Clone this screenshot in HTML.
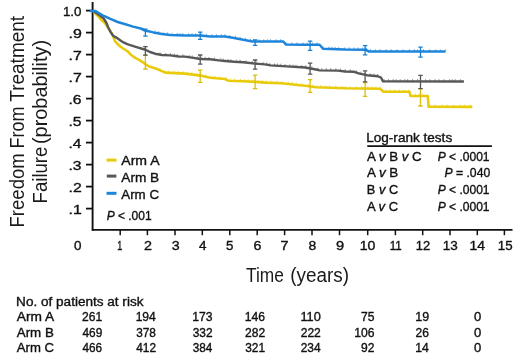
<!DOCTYPE html>
<html><head><meta charset="utf-8"><style>
html,body{margin:0;padding:0;background:#fff;}
svg{display:block;will-change:transform;}
text{font-family:"Liberation Sans", sans-serif;fill:#111;stroke:#111;stroke-width:0.35px;}
text.big{stroke:none;fill:#1a1a1a;}
</style></head><body>
<svg width="520" height="356" viewBox="0 0 520 356">
<rect width="520" height="356" fill="#fff"/>
<path d="M92.6 2V230.6" stroke="#111" stroke-width="1.9" fill="none"/>
<path d="M91.8 229.8H512.5" stroke="#111" stroke-width="1.8" fill="none"/>
<path d="M86 10.6H92" stroke="#111" stroke-width="1.8"/>
<path d="M86 32.6H92" stroke="#111" stroke-width="1.8"/>
<path d="M86 54.6H92" stroke="#111" stroke-width="1.8"/>
<path d="M86 76.6H92" stroke="#111" stroke-width="1.8"/>
<path d="M86 98.6H92" stroke="#111" stroke-width="1.8"/>
<path d="M86 120.6H92" stroke="#111" stroke-width="1.8"/>
<path d="M86 142.6H92" stroke="#111" stroke-width="1.8"/>
<path d="M86 164.6H92" stroke="#111" stroke-width="1.8"/>
<path d="M86 186.6H92" stroke="#111" stroke-width="1.8"/>
<path d="M86 208.6H92" stroke="#111" stroke-width="1.8"/>
<path d="M120.2 230V235.2" stroke="#111" stroke-width="1.5"/>
<path d="M147.4 230V235.2" stroke="#111" stroke-width="1.5"/>
<path d="M175 230V235.2" stroke="#111" stroke-width="1.5"/>
<path d="M202.3 230V235.2" stroke="#111" stroke-width="1.5"/>
<path d="M229.8 230V235.2" stroke="#111" stroke-width="1.5"/>
<path d="M257.2 230V235.2" stroke="#111" stroke-width="1.5"/>
<path d="M284.6 230V235.2" stroke="#111" stroke-width="1.5"/>
<path d="M312 230V235.2" stroke="#111" stroke-width="1.5"/>
<path d="M339.5 230V235.2" stroke="#111" stroke-width="1.5"/>
<path d="M367.7 230V235.2" stroke="#111" stroke-width="1.5"/>
<path d="M395.4 230V235.2" stroke="#111" stroke-width="1.5"/>
<path d="M422.7 230V235.2" stroke="#111" stroke-width="1.5"/>
<path d="M450 230V235.2" stroke="#111" stroke-width="1.5"/>
<path d="M477.3 230V235.2" stroke="#111" stroke-width="1.5"/>
<path d="M504.4 230V235.2" stroke="#111" stroke-width="1.5"/>
<polyline points="93.5,11.7 97.0,15.1 99.2,17.4 101.5,20.2 104.9,23.0 108.5,28.2 111.6,33.1 113.5,37.3 115.1,41.4 117.6,44.0 120.2,46.5 124.0,49.0 127.8,51.5 131.5,55.3 135.3,57.9 139.1,59.8 142.9,62.3 146.0,64.6 150.0,66.8 155.0,68.2 161.9,71.1 165.2,72.6 185.0,73.6 193.4,74.6 200.2,75.6 210.3,77.8 225.0,79.0 228.6,80.8 243.3,81.3 255.1,81.9 265.0,82.6 281.4,83.2 297.5,85.0 305.0,85.8 316.0,87.2 345.0,88.3 380.0,88.8 383.5,91.8 409.5,91.8 410.5,95.9 427.8,96.0 428.6,106.8 472.3,106.9" stroke="#e9cb0c" stroke-width="2.6" fill="none" stroke-linejoin="round"/>
<polyline points="93.5,11.2 99.2,15.1 103.7,18.5 106.5,23.0 108.2,27.5 110.4,31.6 113.0,35.7 116.4,37.6 121.2,41.0 124.0,42.7 127.3,44.2 130.3,45.2 136.6,47.1 142.9,49.0 145.0,49.5 150.0,52.0 155.0,53.7 161.9,55.0 170.3,55.4 178.7,56.5 185.0,56.6 193.4,57.9 200.2,59.0 210.3,59.3 218.7,60.4 225.0,61.0 234.1,61.8 243.3,62.3 255.1,63.6 265.0,64.4 270.5,65.4 286.9,66.4 305.0,67.5 316.0,69.5 319.6,70.4 337.9,70.6 345.0,71.5 354.1,71.8 359.6,73.6 366.9,75.2 377.9,76.3 381.0,77.5 383.0,81.4 463.9,81.5" stroke="#585858" stroke-width="2.4" fill="none" stroke-linejoin="round"/>
<polyline points="89.8,10.9 95.5,11.1 97.5,12.2 102.7,15.4 110.4,18.9 117.7,22.0 125.4,24.3 133.1,26.6 140.8,28.5 145.0,30.5 153.4,32.4 161.9,34.0 170.3,34.9 185.0,35.5 200.2,35.6 210.3,36.4 225.0,36.6 234.1,38.0 243.3,39.8 252.4,41.4 265.0,41.5 283.3,41.5 286.0,44.6 305.0,44.8 319.6,44.8 323.0,48.7 345.0,49.6 366.0,49.8 368.7,51.4 445.5,51.6" stroke="#1e86da" stroke-width="2.5" fill="none" stroke-linejoin="round"/>
<path d="M145.4 55.2V69.0M143.2 55.2H147.6M143.2 69.0H147.6" stroke="#d8bd14" stroke-width="1.3" fill="none"/><path d="M200.2 70.2V82.3M198.0 70.2H202.4M198.0 82.3H202.4" stroke="#d8bd14" stroke-width="1.3" fill="none"/><path d="M255.1 75.1V88.6M252.9 75.1H257.3M252.9 88.6H257.3" stroke="#d8bd14" stroke-width="1.3" fill="none"/><path d="M310.1 79.6V92.3M307.9 79.6H312.3M307.9 92.3H312.3" stroke="#d8bd14" stroke-width="1.3" fill="none"/><path d="M365.1 82.7V96.4M362.9 82.7H367.3M362.9 96.4H367.3" stroke="#d8bd14" stroke-width="1.3" fill="none"/><path d="M420.5 88.6V106.0M418.3 88.6H422.7M418.3 106.0H422.7" stroke="#d8bd14" stroke-width="1.3" fill="none"/>
<path d="M155.0 30.4V32.7M158.6 31.1V33.4M163.2 31.8V34.1M167.2 32.3V34.6M172.1 32.7V35.0M177.1 32.9V35.2M180.0 33.0V35.3M182.8 33.1V35.4M188.5 33.2V35.5M192.1 33.2V35.5M195.6 33.3V35.6M201.9 33.4V35.7M206.3 33.8V36.1M212.0 34.1V36.4M216.5 34.2V36.5M221.5 34.3V36.6M224.7 34.3V36.6M229.7 35.0V37.3M235.5 36.0V38.3M240.1 36.9V39.2M245.5 37.9V40.2M250.6 38.8V41.1M253.5 39.1V41.4M258.9 39.2V41.5M263.8 39.2V41.5M267.5 39.2V41.5M270.4 39.2V41.5M276.2 39.2V41.5M280.6 39.2V41.5M285.9 42.1V44.4M291.7 42.4V44.7M297.0 42.4V44.7M303.0 42.5V44.8M307.1 42.5V44.8M312.7 42.5V44.8M317.0 42.5V44.8M323.1 46.4V48.7M329.0 46.6V48.9M332.0 46.8V49.1M335.2 46.9V49.2M338.7 47.0V49.3M344.9 47.3V49.6M349.1 47.3V49.6M354.1 47.4V49.7M357.9 47.4V49.7M362.4 47.5V49.8M366.5 47.8V50.1M370.4 49.1V51.4M375.2 49.1V51.4M380.0 49.1V51.4M386.0 49.1V51.4M391.2 49.2V51.5M397.2 49.2V51.5M403.0 49.2V51.5M409.3 49.2V51.5M414.4 49.2V51.5M417.7 49.2V51.5M423.5 49.2V51.5M429.6 49.3V51.6M435.6 49.3V51.6M440.3 49.3V51.6M445.6 49.3V51.6" stroke="#1e86da" stroke-width="0.8" fill="none" opacity="0.8"/>
<path d="M160.0 52.3V54.6M165.7 52.9V55.2M170.5 53.1V55.4M174.2 53.6V55.9M177.1 54.0V56.3M182.9 54.3V56.6M189.2 54.9V57.2M192.2 55.4V57.7M197.8 56.3V58.6M201.9 56.8V59.1M205.2 56.8V59.1M208.9 57.0V59.3M214.4 57.5V59.8M220.2 58.2V60.5M223.1 58.5V60.8M228.0 59.0V61.3M230.9 59.2V61.5M236.2 59.6V61.9M240.1 59.8V62.1M245.9 60.3V62.6M252.2 61.0V63.3M256.7 61.4V63.7M263.0 61.9V64.2M266.8 62.4V64.7M269.8 63.0V65.3M274.6 63.4V65.7M277.4 63.5V65.8M280.8 63.7V66.0M285.0 64.0V66.3M289.9 64.3V66.6M293.2 64.5V66.8M296.0 64.7V67.0M301.8 65.0V67.3M305.7 65.3V67.6M311.8 66.4V68.7M317.8 67.6V69.9M321.8 68.1V70.4M326.2 68.2V70.5M330.7 68.2V70.5M335.8 68.3V70.6M340.6 68.6V70.9M345.3 69.2V71.5M350.3 69.4V71.7M356.3 70.2V72.5M360.9 71.6V73.9M365.1 72.5V74.8M370.4 73.3V75.6M374.0 73.6V75.9M377.7 74.0V76.3M384.0 79.1V81.4M388.5 79.1V81.4M393.2 79.1V81.4M396.0 79.1V81.4M400.2 79.1V81.4M404.9 79.1V81.4M407.7 79.1V81.4M412.6 79.1V81.4M417.6 79.1V81.4M420.5 79.1V81.4M425.5 79.2V81.5M429.9 79.2V81.5M435.0 79.2V81.5M439.0 79.2V81.5M444.2 79.2V81.5M449.6 79.2V81.5M452.4 79.2V81.5M455.3 79.2V81.5M460.4 79.2V81.5" stroke="#585858" stroke-width="0.8" fill="none" opacity="0.8"/>
<path d="M160.0 68.0V70.3M164.0 69.8V72.1M168.8 70.5V72.8M174.2 70.8V73.1M178.5 71.0V73.3M182.9 71.2V73.5M187.2 71.6V73.9M191.7 72.1V74.4M197.0 72.8V75.1M201.2 73.5V75.8M205.8 74.5V76.8M211.8 75.6V77.9M215.0 75.9V78.2M220.2 76.3V78.6M226.2 77.3V79.6M230.4 78.6V80.9M234.3 78.7V81.0M240.5 78.9V81.2M244.5 79.1V81.4M248.2 79.3V81.6M253.0 79.5V81.8M258.8 79.9V82.2M262.2 80.1V82.4M266.4 80.4V82.7M270.8 80.5V82.8M277.1 80.7V83.0M281.9 81.0V83.3M288.3 81.7V84.0M292.0 82.1V84.4M296.3 82.6V84.9M301.9 83.2V85.5M308.5 83.9V86.2M313.3 84.6V86.9M317.2 84.9V87.2M320.6 85.1V87.4M325.8 85.3V87.6M329.5 85.4V87.7M335.8 85.6V87.9M342.1 85.9V88.2M345.8 86.0V88.3M350.0 86.1V88.4M356.2 86.2V88.5M361.8 86.2V88.5M368.0 86.3V88.6M372.4 86.4V88.7M375.9 86.4V88.7M380.0 86.5V88.8M386.2 89.5V91.8M390.3 89.5V91.8M394.7 89.5V91.8M399.4 89.5V91.8M404.0 89.5V91.8M408.7 89.5V91.8M415.4 93.6V95.9M419.0 93.6V95.9M422.0 93.7V96.0M428.8 104.5V106.8M435.3 104.5V106.8M442.2 104.5V106.8M447.0 104.5V106.8M453.8 104.6V106.9M460.5 104.6V106.9M464.4 104.6V106.9M470.4 104.6V106.9" stroke="#e9cb0c" stroke-width="0.8" fill="none" opacity="0.8"/>
<path d="M145.4 46.6V55.2M143.2 46.6H147.6M143.2 55.2H147.6" stroke="#555" stroke-width="1.3" fill="none"/><path d="M200.2 55.0V64.1M198.0 55.0H202.4M198.0 64.1H202.4" stroke="#555" stroke-width="1.3" fill="none"/><path d="M255.1 60.0V69.1M252.9 60.0H257.3M252.9 69.1H257.3" stroke="#555" stroke-width="1.3" fill="none"/><path d="M310.1 63.1V74.1M307.9 63.1H312.3M307.9 74.1H312.3" stroke="#555" stroke-width="1.3" fill="none"/><path d="M365.1 70.9V81.8M362.9 70.9H367.3M362.9 81.8H367.3" stroke="#555" stroke-width="1.3" fill="none"/><path d="M420.5 75.4V88.6M418.3 75.4H422.7M418.3 88.6H422.7" stroke="#555" stroke-width="1.3" fill="none"/>
<path d="M145.4 29.2V36.2M143.2 29.2H147.6M143.2 36.2H147.6" stroke="#1a7fd0" stroke-width="1.3" fill="none"/><path d="M200.2 32.1V39.3M198.0 32.1H202.4M198.0 39.3H202.4" stroke="#1a7fd0" stroke-width="1.3" fill="none"/><path d="M255.1 39.9V45.3M252.9 39.9H257.3M252.9 45.3H257.3" stroke="#1a7fd0" stroke-width="1.3" fill="none"/><path d="M310.1 41.2V50.3M307.9 41.2H312.3M307.9 50.3H312.3" stroke="#1a7fd0" stroke-width="1.3" fill="none"/><path d="M365.1 45.7V54.8M362.9 45.7H367.3M362.9 54.8H367.3" stroke="#1a7fd0" stroke-width="1.3" fill="none"/><path d="M420.5 47.1V57.2M418.3 47.1H422.7M418.3 57.2H422.7" stroke="#1a7fd0" stroke-width="1.3" fill="none"/>
<rect x="106.5" y="158.6" width="10" height="3" fill="#e9cb0c"/>
<rect x="106.8" y="174.6" width="9.6" height="3" fill="#585858"/>
<rect x="106.5" y="191.8" width="10" height="3" fill="#1e86da"/>
<path d="M367.3 146.1H491.9" stroke="#111" stroke-width="1.8"/>
<text x="62.97" y="15.50" font-size="12.9" textLength="18.51" lengthAdjust="spacingAndGlyphs">1.0</text>
<text x="68.47" y="37.50" font-size="12.9" textLength="13.27" lengthAdjust="spacingAndGlyphs">.9</text>
<text x="68.47" y="59.50" font-size="12.9" textLength="13.27" lengthAdjust="spacingAndGlyphs">.7</text>
<text x="68.47" y="81.50" font-size="12.9" textLength="13.27" lengthAdjust="spacingAndGlyphs">.7</text>
<text x="68.49" y="103.50" font-size="12.9" textLength="13.08" lengthAdjust="spacingAndGlyphs">.6</text>
<text x="68.49" y="125.50" font-size="12.9" textLength="13.08" lengthAdjust="spacingAndGlyphs">.5</text>
<text x="68.51" y="147.50" font-size="12.9" textLength="12.90" lengthAdjust="spacingAndGlyphs">.4</text>
<text x="68.49" y="169.50" font-size="12.9" textLength="13.08" lengthAdjust="spacingAndGlyphs">.3</text>
<text x="68.47" y="191.50" font-size="12.9" textLength="13.27" lengthAdjust="spacingAndGlyphs">.2</text>
<text x="68.47" y="213.50" font-size="12.9" textLength="13.27" lengthAdjust="spacingAndGlyphs">.1</text>
<text x="117.16" y="249.60" font-size="12.4" textLength="5.06" lengthAdjust="spacingAndGlyphs">1</text>
<text x="144.08" y="249.60" font-size="12.4" textLength="7.98" lengthAdjust="spacingAndGlyphs">2</text>
<text x="171.77" y="249.60" font-size="12.4" textLength="7.95" lengthAdjust="spacingAndGlyphs">3</text>
<text x="198.93" y="249.60" font-size="12.4" textLength="7.52" lengthAdjust="spacingAndGlyphs">4</text>
<text x="226.07" y="249.60" font-size="12.4" textLength="7.42" lengthAdjust="spacingAndGlyphs">5</text>
<text x="253.59" y="249.60" font-size="12.4" textLength="7.93" lengthAdjust="spacingAndGlyphs">6</text>
<text x="280.58" y="249.60" font-size="12.4" textLength="7.98" lengthAdjust="spacingAndGlyphs">7</text>
<text x="308.44" y="249.60" font-size="12.4" textLength="7.76" lengthAdjust="spacingAndGlyphs">8</text>
<text x="335.91" y="249.60" font-size="12.4" textLength="8.16" lengthAdjust="spacingAndGlyphs">9</text>
<text x="359.71" y="249.60" font-size="12.4" textLength="15.70" lengthAdjust="spacingAndGlyphs">10</text>
<text x="389.69" y="249.60" font-size="12.4" textLength="12.05" lengthAdjust="spacingAndGlyphs">11</text>
<text x="415.69" y="249.60" font-size="12.4" textLength="14.40" lengthAdjust="spacingAndGlyphs">12</text>
<text x="442.65" y="249.60" font-size="12.4" textLength="15.03" lengthAdjust="spacingAndGlyphs">13</text>
<text x="469.52" y="249.60" font-size="12.4" textLength="15.54" lengthAdjust="spacingAndGlyphs">14</text>
<text x="497.87" y="249.60" font-size="12.4" textLength="14.81" lengthAdjust="spacingAndGlyphs">15</text>
<text x="74.10" y="250.00" font-size="12.6" textLength="7.49" lengthAdjust="spacingAndGlyphs">0</text>
<text x="121.30" y="164.90" font-size="12.7" textLength="38.26" lengthAdjust="spacingAndGlyphs">Arm A</text>
<text x="121.30" y="181.50" font-size="12.7" textLength="37.94" lengthAdjust="spacingAndGlyphs">Arm B</text>
<text x="121.30" y="198.60" font-size="12.7" textLength="37.73" lengthAdjust="spacingAndGlyphs">Arm C</text>
<text x="106.64" y="220.20" font-size="12.7" textLength="44.91" lengthAdjust="spacingAndGlyphs"><tspan font-style="italic">P</tspan> &lt; .001</text>
<text x="366.21" y="142.30" font-size="12.6" textLength="85.99" lengthAdjust="spacingAndGlyphs">Log-rank tests</text>
<text x="367.00" y="160.90" font-size="12.6" textLength="54.62" lengthAdjust="spacingAndGlyphs">A <tspan font-style="italic">v</tspan> B <tspan font-style="italic">v</tspan> C</text>
<text x="367.00" y="177.40" font-size="12.6" textLength="31.32" lengthAdjust="spacingAndGlyphs">A <tspan font-style="italic">v</tspan> B</text>
<text x="366.88" y="194.20" font-size="12.6" textLength="31.23" lengthAdjust="spacingAndGlyphs">B <tspan font-style="italic">v</tspan> C</text>
<text x="367.00" y="210.90" font-size="12.6" textLength="31.11" lengthAdjust="spacingAndGlyphs">A <tspan font-style="italic">v</tspan> C</text>
<text x="437.64" y="161.00" font-size="12.6" textLength="51.92" lengthAdjust="spacingAndGlyphs"><tspan font-style="italic">P</tspan> &lt; .0001</text>
<text x="444.43" y="177.40" font-size="12.6" textLength="45.81" lengthAdjust="spacingAndGlyphs"><tspan font-style="italic">P</tspan> = .040</text>
<text x="437.64" y="194.20" font-size="12.6" textLength="51.92" lengthAdjust="spacingAndGlyphs"><tspan font-style="italic">P</tspan> &lt; .0001</text>
<text x="437.64" y="210.90" font-size="12.6" textLength="51.92" lengthAdjust="spacingAndGlyphs"><tspan font-style="italic">P</tspan> &lt; .0001</text>
<text transform="translate(23.70,0) rotate(-90)" x="-227.48" y="0" font-size="20.4" textLength="74.15" lengthAdjust="spacingAndGlyphs" class="big">Freedom</text>
<text transform="translate(23.70,0) rotate(-90)" x="-148.54" y="0" font-size="20.4" textLength="42.08" lengthAdjust="spacingAndGlyphs" class="big">From</text>
<text transform="translate(23.70,0) rotate(-90)" x="-101.68" y="0" font-size="20.4" textLength="85.74" lengthAdjust="spacingAndGlyphs" class="big">Treatment</text>
<text transform="translate(47.20,0) rotate(-90)" x="-203.39" y="0" font-size="20.4" textLength="56.76" lengthAdjust="spacingAndGlyphs" class="big">Failure</text>
<text transform="translate(47.20,0) rotate(-90)" x="-144.10" y="0" font-size="20.4" textLength="104.15" lengthAdjust="spacingAndGlyphs" class="big">(probability)</text>
<text x="245.95" y="282.40" font-size="19.6" textLength="37.87" lengthAdjust="spacingAndGlyphs" class="big">Time</text>
<text x="290.17" y="282.40" font-size="19.6" textLength="58.84" lengthAdjust="spacingAndGlyphs" class="big">(years)</text>
<text x="16.12" y="305.50" font-size="12.0" textLength="127.35" lengthAdjust="spacingAndGlyphs">No. of patients at risk</text>
<text x="16.80" y="321.10" font-size="12.0" textLength="37.36" lengthAdjust="spacingAndGlyphs">Arm A</text>
<text x="82.10" y="321.10" font-size="12.0" textLength="20.16" lengthAdjust="spacingAndGlyphs">261</text>
<text x="135.65" y="321.10" font-size="12.0" textLength="20.16" lengthAdjust="spacingAndGlyphs">194</text>
<text x="192.15" y="321.10" font-size="12.0" textLength="20.29" lengthAdjust="spacingAndGlyphs">173</text>
<text x="244.75" y="321.10" font-size="12.0" textLength="20.29" lengthAdjust="spacingAndGlyphs">146</text>
<text x="300.41" y="321.10" font-size="12.0" textLength="20.36" lengthAdjust="spacingAndGlyphs">110</text>
<text x="361.00" y="321.10" font-size="12.0" textLength="13.44" lengthAdjust="spacingAndGlyphs">75</text>
<text x="415.33" y="321.10" font-size="12.0" textLength="13.85" lengthAdjust="spacingAndGlyphs">19</text>
<text x="474.11" y="321.10" font-size="12.0" textLength="7.26" lengthAdjust="spacingAndGlyphs">0</text>
<text x="16.80" y="336.60" font-size="12.0" textLength="37.03" lengthAdjust="spacingAndGlyphs">Arm B</text>
<text x="82.46" y="336.60" font-size="12.0" textLength="19.78" lengthAdjust="spacingAndGlyphs">469</text>
<text x="136.14" y="336.60" font-size="12.0" textLength="19.78" lengthAdjust="spacingAndGlyphs">378</text>
<text x="192.64" y="336.60" font-size="12.0" textLength="19.91" lengthAdjust="spacingAndGlyphs">332</text>
<text x="245.00" y="336.60" font-size="12.0" textLength="20.16" lengthAdjust="spacingAndGlyphs">282</text>
<text x="300.70" y="336.60" font-size="12.0" textLength="20.16" lengthAdjust="spacingAndGlyphs">222</text>
<text x="354.15" y="336.60" font-size="12.0" textLength="20.29" lengthAdjust="spacingAndGlyphs">106</text>
<text x="415.60" y="336.60" font-size="12.0" textLength="13.44" lengthAdjust="spacingAndGlyphs">26</text>
<text x="474.11" y="336.60" font-size="12.0" textLength="7.26" lengthAdjust="spacingAndGlyphs">0</text>
<text x="16.80" y="351.60" font-size="12.0" textLength="37.22" lengthAdjust="spacingAndGlyphs">Arm C</text>
<text x="82.46" y="351.60" font-size="12.0" textLength="19.66" lengthAdjust="spacingAndGlyphs">466</text>
<text x="136.26" y="351.60" font-size="12.0" textLength="19.78" lengthAdjust="spacingAndGlyphs">412</text>
<text x="192.65" y="351.60" font-size="12.0" textLength="19.66" lengthAdjust="spacingAndGlyphs">384</text>
<text x="245.24" y="351.60" font-size="12.0" textLength="19.91" lengthAdjust="spacingAndGlyphs">321</text>
<text x="300.70" y="351.60" font-size="12.0" textLength="19.91" lengthAdjust="spacingAndGlyphs">234</text>
<text x="361.12" y="351.60" font-size="12.0" textLength="13.44" lengthAdjust="spacingAndGlyphs">92</text>
<text x="415.35" y="351.60" font-size="12.0" textLength="13.57" lengthAdjust="spacingAndGlyphs">14</text>
<text x="474.11" y="351.60" font-size="12.0" textLength="7.26" lengthAdjust="spacingAndGlyphs">0</text>
</svg>
</body></html>
